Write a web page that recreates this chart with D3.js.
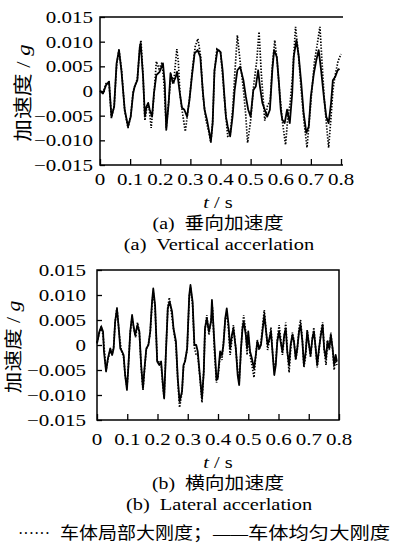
<!DOCTYPE html>
<html><head><meta charset="utf-8">
<script src="https://cdn.jsdelivr.net/npm/d3@7"></script>
<style>body{margin:0;background:#fff}svg{display:block;background:#fff}text{white-space:pre}</style>
</head><body><svg id="c" width="409" height="546"></svg>
<script>
// ---------- data ----------
const xTicks = [0, 0.1, 0.2, 0.3, 0.4, 0.5, 0.6, 0.7, 0.8];
const xTickLabels = ["0", "0.1", "0.2", "0.3", "0.4", "0.5", "0.6", "0.7", "0.8"];
const yTicks = [0.015, 0.010, 0.005, 0, -0.005, -0.010, -0.015];
const yTickLabels = ["0.015", "0.010", "0.005", "0", "\u22120.005", "\u22120.010", "\u22120.015"];

// (a) vertical – solid: uniform large stiffness
const vSolidT = [0,0.01,0.02,0.03,0.038,0.047,0.055,0.063,0.071,0.082,0.093,0.102,0.11,0.115,0.124,0.132,0.135,0.143,0.149,0.154,0.16,0.165,0.173,0.179,0.187,0.198,0.209,0.215,0.22,0.228,0.234,0.242,0.25,0.256,0.264,0.272,0.28,0.289,0.297,0.305,0.314,0.324,0.333,0.341,0.347,0.355,0.363,0.368,0.374,0.38,0.39,0.40,0.407,0.413,0.418,0.424,0.432,0.44,0.447,0.456,0.465,0.476,0.484,0.492,0.5,0.509,0.517,0.525,0.531,0.539,0.547,0.555,0.564,0.572,0.578,0.587,0.594,0.6,0.605,0.613,0.621,0.63,0.638,0.643,0.652,0.66,0.668,0.676,0.685,0.693,0.70,0.71,0.718,0.726,0.734,0.743,0.751,0.759,0.767,0.773,0.781,0.789,0.795];
const vSolidV = [0,-0.0005,0.0012,0.0019,-0.0052,-0.0032,0.0056,0.0083,0.0042,-0.0038,-0.0072,-0.0052,-0.0005,0.0009,0.0022,0.0089,0.0097,0.0029,-0.0052,-0.0032,-0.0024,-0.0038,-0.0052,-0.0005,0.0032,0.0039,0.0056,0.0016,-0.0079,-0.0024,0.0036,0.0016,0.0026,0.0039,0,-0.0034,-0.0038,-0.0052,-0.0018,0.0029,0.0076,0.0083,0.0069,0.0002,-0.0038,-0.0058,-0.0085,-0.0102,-0.0065,0.0042,0.0084,0.0079,0.0042,-0.0011,-0.0052,-0.0072,-0.0092,-0.0052,0.0002,0.0042,0.0049,0.0022,-0.0011,-0.0038,-0.0052,0.0002,0.0009,0.0042,0.0009,-0.0024,-0.0038,-0.0052,-0.0038,0.0042,0.0083,0.0069,0.0016,-0.0038,-0.0058,-0.0065,-0.0038,-0.0065,-0.0005,0.0069,0.0103,0.0069,0.0016,-0.0045,-0.0085,-0.0072,-0.0011,0.0036,0.0062,0.0083,0.0042,-0.0011,-0.0052,-0.0065,-0.0024,0.0022,0.0029,0.0042,0.0045];

// (a) vertical – dotted: local large stiffness
const vDotT = [0,0.01,0.02,0.03,0.038,0.047,0.055,0.063,0.072,0.082,0.093,0.102,0.11,0.124,0.133,0.136,0.143,0.149,0.155,0.162,0.17,0.179,0.187,0.196,0.206,0.213,0.22,0.228,0.236,0.245,0.255,0.26,0.266,0.274,0.283,0.29,0.298,0.306,0.316,0.325,0.334,0.342,0.352,0.362,0.368,0.374,0.38,0.388,0.40,0.407,0.415,0.424,0.432,0.44,0.448,0.456,0.465,0.475,0.484,0.49,0.5,0.51,0.52,0.528,0.535,0.547,0.556,0.565,0.572,0.58,0.588,0.596,0.605,0.616,0.624,0.63,0.638,0.649,0.658,0.668,0.677,0.687,0.695,0.703,0.712,0.72,0.73,0.738,0.745,0.752,0.759,0.766,0.773,0.78,0.79,0.80];
const vDotV = [0,-0.0003,0.0015,0.0018,-0.0055,-0.003,0.005,0.0085,0.004,-0.004,-0.0075,-0.005,0,0.0025,0.0092,0.0103,0.003,-0.006,-0.0035,-0.003,-0.0075,-0.001,0.006,0.0045,0.0058,0.001,-0.0075,-0.002,0.0032,0.002,0.0085,0.006,-0.001,-0.0045,-0.0082,-0.005,-0.001,0.004,0.009,0.0106,0.007,-0.001,-0.006,-0.0085,-0.0105,-0.006,0.004,0.0085,0.008,0.003,-0.003,-0.0092,-0.009,-0.004,0.004,0.0113,0.006,0.001,-0.005,-0.0105,-0.006,0.001,0.006,0.012,0.004,-0.006,-0.003,-0.002,0.005,0.0103,0.006,0,-0.006,-0.0109,-0.005,-0.003,0.002,0.013,0.008,0,-0.006,-0.0115,-0.006,0,0.006,0.009,0.013,0.005,-0.002,-0.007,-0.0115,-0.006,0,0.003,0.006,0.0075];

// (b) lateral – solid
const lSolidT = [0,0.008,0.014,0.02,0.023,0.03,0.036,0.044,0.05,0.055,0.06,0.066,0.072,0.077,0.083,0.088,0.093,0.099,0.104,0.11,0.116,0.121,0.126,0.134,0.14,0.146,0.152,0.157,0.163,0.17,0.176,0.182,0.186,0.192,0.199,0.206,0.212,0.218,0.222,0.228,0.234,0.24,0.248,0.253,0.261,0.267,0.273,0.281,0.286,0.291,0.298,0.305,0.309,0.316,0.322,0.328,0.333,0.341,0.347,0.353,0.357,0.363,0.37,0.377,0.38,0.388,0.395,0.399,0.407,0.413,0.418,0.424,0.429,0.435,0.44,0.446,0.451,0.459,0.465,0.47,0.476,0.481,0.485,0.492,0.496,0.5,0.506,0.512,0.519,0.525,0.53,0.536,0.542,0.547,0.553,0.559,0.564,0.57,0.575,0.581,0.586,0.591,0.596,0.602,0.607,0.613,0.619,0.624,0.629,0.635,0.64,0.646,0.651,0.657,0.662,0.668,0.673,0.679,0.684,0.69,0.695,0.701,0.706,0.712,0.717,0.723,0.728,0.734,0.74,0.746,0.751,0.757,0.762,0.768,0.773,0.779,0.784,0.789,0.793];
const lSolidV = [0.0003,0.0027,0.0037,0.0027,-0.0013,-0.0053,-0.0027,-0.0007,-0.002,-0.0007,0.0047,0.0073,0.0033,-0.0007,-0.0013,-0.002,-0.006,-0.009,-0.004,0.0027,0.006,0.0037,0.002,0.004,0.0027,-0.004,-0.0087,-0.0047,-0.0007,0,0.0027,0.0087,0.0113,0.008,-0.0033,-0.004,-0.0033,-0.008,-0.0107,-0.0013,0.0073,0.0087,0.0067,0.0033,0.0007,-0.0067,-0.0113,-0.0093,-0.004,-0.0033,-0.0007,0.01,0.012,0.0087,0,0,-0.0013,-0.0067,-0.0107,-0.0053,0.0033,0.0053,0.0027,0.0047,0.009,0.0005,-0.007,-0.0067,-0.0013,-0.002,0,0.0053,0.0073,0.004,-0.0007,0.002,0.0033,-0.0007,-0.006,-0.008,-0.0007,0.0033,0.0047,0.002,-0.0007,0.0027,-0.0013,-0.0027,-0.0047,-0.002,0.0007,-0.0007,0,0.0027,0.006,0.0027,0,0.0013,0.0027,-0.002,-0.006,-0.004,0.0007,0.0027,0.0007,-0.0013,0.002,0.0033,-0.0013,-0.004,0,0.002,0.0007,-0.0027,-0.0007,0.0027,0.004,0.0007,-0.004,-0.0013,0.0027,0,-0.002,0.0013,0.0027,-0.0007,-0.004,-0.0007,0.002,0.004,-0.0007,-0.0027,0.0007,-0.0007,0.002,-0.0007,-0.004,-0.002,-0.0033];

// (b) lateral – dotted
const lDotT = [0,0.008,0.014,0.02,0.03,0.036,0.044,0.05,0.055,0.06,0.066,0.072,0.08,0.088,0.093,0.099,0.104,0.11,0.116,0.121,0.128,0.134,0.14,0.146,0.152,0.157,0.163,0.17,0.176,0.182,0.186,0.192,0.199,0.206,0.212,0.218,0.222,0.228,0.234,0.239,0.246,0.253,0.261,0.267,0.273,0.281,0.286,0.291,0.298,0.305,0.309,0.316,0.322,0.328,0.333,0.341,0.347,0.353,0.357,0.363,0.37,0.377,0.382,0.388,0.395,0.4,0.407,0.413,0.418,0.424,0.429,0.435,0.44,0.446,0.451,0.459,0.465,0.47,0.476,0.481,0.485,0.492,0.496,0.5,0.506,0.512,0.519,0.525,0.53,0.536,0.542,0.547,0.553,0.559,0.564,0.57,0.575,0.581,0.586,0.591,0.596,0.602,0.607,0.613,0.619,0.624,0.629,0.635,0.64,0.646,0.651,0.657,0.662,0.668,0.673,0.679,0.684,0.69,0.695,0.701,0.706,0.712,0.717,0.723,0.728,0.734,0.74,0.746,0.751,0.757,0.762,0.768,0.773,0.779,0.784,0.789,0.793];
const lDotV = [0.0005,0.0025,0.0035,0.002,-0.005,-0.003,-0.001,-0.0018,-0.0005,0.0045,0.0075,0.003,-0.001,-0.0025,-0.006,-0.0085,-0.004,0.0025,0.0055,0.0035,0.0015,0.0045,0.0025,-0.0045,-0.009,-0.005,-0.001,0.0002,0.0025,0.0082,0.0105,0.0075,-0.003,-0.0035,-0.004,-0.0085,-0.0105,-0.001,0.0075,0.0095,0.0065,0.003,0,-0.007,-0.0125,-0.0095,-0.0045,-0.003,-0.001,0.0095,0.0115,0.008,-0.0005,-0.002,-0.002,-0.007,-0.0115,-0.005,0.003,0.006,0.002,0.005,0.0075,-0.001,-0.0075,-0.0065,-0.002,-0.003,0.0005,0.005,0.0065,0.003,-0.002,0.001,0.004,-0.001,-0.005,-0.0075,-0.001,0.004,0.006,0.0025,-0.002,0.002,-0.002,-0.004,-0.0065,-0.002,0.001,-0.001,0.0005,0.0035,0.007,0.003,-0.001,0.001,0.0035,-0.002,-0.005,-0.0035,0.001,0.004,0.0015,-0.002,0.0015,0.0045,-0.001,-0.0055,-0.001,0.0025,0.001,-0.003,-0.001,0.0035,0.005,0.001,-0.0045,-0.002,0.003,0,-0.0025,0.0015,0.0035,-0.001,-0.0045,-0.001,0.0025,0.0045,-0.001,-0.004,0.001,-0.001,0.0025,-0.001,-0.005,-0.0025,-0.004];

// ---------- drawing ----------
const svg = d3.select("#c");
const SERIF = "'Liberation Serif','Times New Roman',serif";
const CJK = "'Noto Sans CJK SC','Noto Sans CJK JP',sans-serif";
const SX = 1.2; // horizontal stretch of the printed type

function label(g, x, y, anchor, size, parts, rot, len) {
  const t = g.append("text")
    .attr("transform", `translate(${x},${y})` + (rot ? ` rotate(${rot})` : "") + (len ? "" : ` scale(${SX},1)`))
    .attr("text-anchor", anchor)
    .attr("font-size", size)
    .attr("xml:space", "preserve")
    .style("white-space", "pre")
    .attr("fill", "#000");
  if (len) t.attr("textLength", len).attr("lengthAdjust", "spacingAndGlyphs");
  parts.forEach(p => {
    t.append("tspan").attr("font-family", p.f || SERIF)
      .attr("font-style", p.i ? "italic" : "normal")
      .text(p.s);
  });
  return t;
}

function panel(cfg) {
  const x = d3.scaleLinear().domain([0, 0.8]).range([cfg.left, cfg.right]);
  const y = d3.scaleLinear().domain([-0.015, 0.015]).range([cfg.bottom, cfg.top]);
  const g = svg.append("g");

  // ticks (inward)
  g.append("g").attr("transform", `translate(0,${cfg.bottom})`)
    .call(d3.axisBottom(x).tickValues(xTicks).tickSize(-6).tickFormat(""))
    .call(a => a.select(".domain").remove())
    .call(a => a.selectAll("line").attr("stroke", "#000").attr("stroke-width", 1.3));
  g.append("g").attr("transform", `translate(${cfg.left},0)`)
    .call(d3.axisLeft(y).tickValues(yTicks).tickSize(-5).tickFormat(""))
    .call(a => a.select(".domain").remove())
    .call(a => a.selectAll("line").attr("stroke", "#000").attr("stroke-width", 1.3));

  // data lines
  const line = d3.line().x(d => x(d[0])).y(d => y(d[1]));
  const dot = cfg.dotT.map((t, i) => [t, cfg.dotV[i]]);
  const sol = cfg.solT.map((t, i) => [t, cfg.solV[i]]);
  g.append("path").datum(dot).attr("d", line).attr("fill", "none")
    .attr("stroke", "#000").attr("stroke-width", 1.7).attr("stroke-dasharray", "1.4,1.6");
  g.append("path").datum(sol).attr("d", line).attr("fill", "none")
    .attr("stroke", "#000").attr("stroke-width", 1.8).attr("stroke-linejoin", "round");

  // frame
  const fr = g.append("path").attr("fill", "none").attr("stroke", "#000").attr("stroke-width", 1.5);
  if (cfg.rightBorder) {
    fr.attr("d", `M${cfg.left},${cfg.top}H${cfg.right}V${cfg.bottom}H${cfg.left}Z`);
  } else {
    fr.attr("d", `M${cfg.right + 2},${cfg.top}H${cfg.left}V${cfg.bottom}H${cfg.right + 2}`);
  }

  // tick labels
  g.selectAll(".yl").data(yTicks).enter().append("text")
    .attr("transform", d => `translate(${cfg.yLabX},${y(d) + 6}) scale(${SX},1)`)
    .attr("text-anchor", "end").attr("font-family", SERIF).attr("font-size", 17.5)
    .text((d, i) => yTickLabels[i]);
  g.selectAll(".xl").data(xTicks).enter().append("text")
    .attr("transform", d => `translate(${x(d)},${cfg.xLabY}) scale(${SX},1)`)
    .attr("text-anchor", "middle").attr("font-family", SERIF).attr("font-size", 17.5)
    .text((d, i) => xTickLabels[i]);

  // axis titles
  label(g, 218, cfg.xLabY + 23, "middle", 17,
    [{s: "t", i: true}, {s: " / s"}]);
  label(g, cfg.yTitleX, (cfg.top + cfg.bottom) / 2 + 2, "middle", cfg.yTitleSize,
    [{s: "加速度", f: CJK}, {s: " / "}, {s: "g", i: true}], -90);

  // captions
  label(g, 218, cfg.xLabY + 44, "middle", 16.5,
    [{s: cfg.capA}, {s: "  "}, {s: cfg.capCn, f: CJK}]);
  label(g, 219, cfg.xLabY + 65, "middle", 17,
    [{s: cfg.capEn}]);
}

panel({left: 100, right: 341, top: 17, bottom: 165, yLabX: 93, xLabY: 185, yTitleX: 30, yTitleSize: 19,
  solT: vSolidT, solV: vSolidV, dotT: vDotT, dotV: vDotV, rightBorder: false,
  capA: "(a)", capCn: "垂向加速度", capEn: "(a)  Vertical accerlation"});
panel({left: 97, right: 339, top: 270, bottom: 420, yLabX: 86, xLabY: 445, yTitleX: 20, yTitleSize: 18,
  solT: lSolidT, solV: lSolidV, dotT: lDotT, dotV: lDotV, rightBorder: true,
  capA: "(b)", capCn: "横向加速度", capEn: "(b)  Lateral accerlation"});

// legend
const lg = svg.append("g");
label(lg, 18, 539, "start", 17, [{s: "······"}], 0, 32);
label(lg, 60, 539, "start", 17, [{s: "车体局部大刚度；", f: CJK}], 0, 152);
label(lg, 213, 539, "start", 17, [{s: "——"}], 0, 35);
label(lg, 248, 539, "start", 17, [{s: "车体均匀大刚度", f: CJK}], 0, 142);
</script>
</body></html>
